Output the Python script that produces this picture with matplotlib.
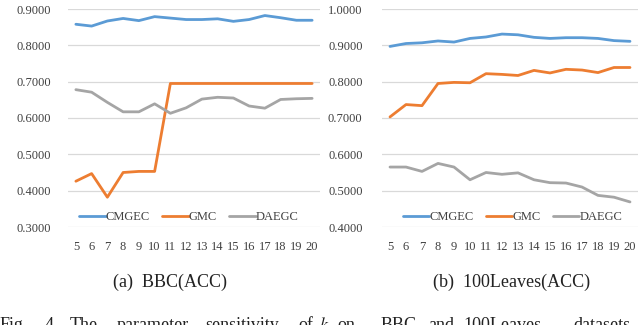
import matplotlib
matplotlib.use("Agg")
import matplotlib.pyplot as plt

plt.rcParams['font.family'] = ['Liberation Serif', 'DejaVu Serif']
plt.rcParams['mathtext.fontset'] = 'stix'

k_values = list(range(5, 21))
series_names = ["CMGEC", "GMC", "DAEGC"]

bbc_cmgec = [0.858, 0.853, 0.867, 0.874, 0.868, 0.879, 0.875, 0.871, 0.871, 0.873, 0.866, 0.871, 0.882, 0.876, 0.869, 0.869]
bbc_gmc = [0.426, 0.447, 0.382, 0.450, 0.453, 0.453, 0.695, 0.695, 0.695, 0.695, 0.695, 0.695, 0.695, 0.695, 0.695, 0.695]
bbc_daegc = [0.678, 0.671, 0.643, 0.617, 0.617, 0.639, 0.613, 0.628, 0.652, 0.657, 0.655, 0.633, 0.627, 0.651, 0.653, 0.654]

leaves_cmgec = [0.897, 0.905, 0.907, 0.912, 0.909, 0.919, 0.923, 0.931, 0.929, 0.922, 0.919, 0.921, 0.921, 0.919, 0.913, 0.911]
leaves_gmc = [0.703, 0.737, 0.734, 0.795, 0.798, 0.797, 0.822, 0.820, 0.817, 0.831, 0.824, 0.834, 0.832, 0.825, 0.839, 0.839]
leaves_daegc = [0.565, 0.565, 0.553, 0.575, 0.565, 0.530, 0.550, 0.545, 0.549, 0.530, 0.522, 0.521, 0.510, 0.487, 0.482, 0.469]

bbc_yticks = [0.3, 0.4, 0.5, 0.6, 0.7, 0.8, 0.9]
leaves_yticks = [0.4, 0.5, 0.6, 0.7, 0.8, 0.9, 1.0]

caption_words = ["Fig.", "4.", "The", "parameter", "sensitivity", "of", "$k$", "on",
                 "BBC", "and", "100Leaves", "datasets"]
caption_x = [0, 45, 70, 117, 205, 298, 319, 337, 381, 428, 463, 573]

colors = ["#5B9BD5", "#ED7D31", "#A5A5A5"]

W, H = 640, 325
fig = plt.figure(figsize=(6.4, 3.25), dpi=100)

def make_ax(x0, x1, y_top, y_bot):
    return fig.add_axes([x0 / W, 1 - y_bot / H, (x1 - x0) / W, (y_bot - y_top) / H])

ax1 = make_ax(68, 320, 9, 227)
ax2 = make_ax(382, 638, 9, 227)

panels = [
    (ax1, [bbc_cmgec, bbc_gmc, bbc_daegc], bbc_yticks, 12, 0.48),
    (ax2, [leaves_cmgec, leaves_gmc, leaves_daegc], leaves_yticks, 14, 0.51),
]

for ax, data, yticks, ypad, legx in panels:
    for vals, name, c in zip(data, series_names, colors):
        ax.plot(k_values, vals, color=c, lw=2.0, label=name, solid_capstyle='round')
    ax.set_xlim(4.5, 20.5)
    ax.set_ylim(yticks[0], yticks[-1])
    ax.set_yticks(yticks)
    ax.set_yticklabels([f"{v:.4f}" for v in yticks])
    ax.set_xticks(k_values)
    ax.set_xticklabels([str(k) for k in k_values])
    ax.grid(axis='y', color='#D9D9D9', lw=0.9)
    ax.set_axisbelow(True)
    for s in ax.spines.values():
        s.set_visible(False)
    ax.tick_params(length=0, labelsize=9, colors='#404040')
    ax.tick_params(axis='y', pad=ypad)
    ax.tick_params(axis='x', pad=10)
    leg = ax.legend(loc='center', bbox_to_anchor=(legx, 0.046), ncol=3, frameon=False,
                    fontsize=9, handlelength=2.1, handletextpad=0.0, columnspacing=1.0,
                    borderaxespad=0, borderpad=0)
    for t in leg.get_texts():
        t.set_color('#404040')

fig.text(170 / W, 1 - 282 / H, "(a)  BBC(ACC)", ha='center', va='center', fontsize=13, color='#222222')
fig.text(512 / W, 1 - 282 / H, "(b)  100Leaves(ACC)", ha='center', va='center', fontsize=13, color='#222222')
for word, x in zip(caption_words, caption_x):
    fig.text(x / W, 1 - 330 / H, word, ha='left', va='baseline', fontsize=13, color='#222222')

fig.savefig("out.png", dpi=100)
